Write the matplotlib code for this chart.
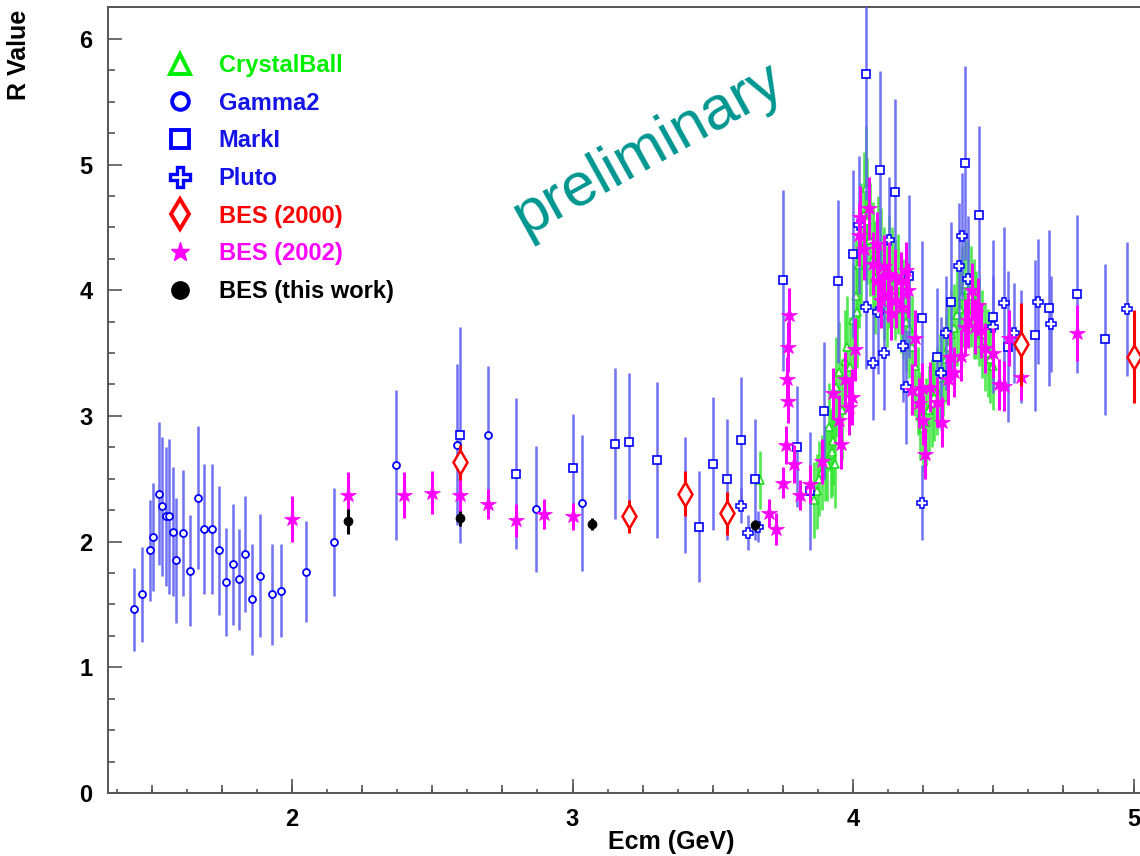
import numpy as np
import matplotlib
matplotlib.use('Agg')
import matplotlib.pyplot as plt
from matplotlib.lines import Line2D
from matplotlib.ticker import MultipleLocator

plt.rcParams['font.family'] = ['Liberation Sans', 'DejaVu Sans']

# Gamma2
g2_e = [1.435, 1.465, 1.492, 1.506, 1.526, 1.538, 1.550, 1.560, 1.575, 1.588, 1.611, 1.637,
        1.664, 1.687, 1.714, 1.738, 1.764, 1.790, 1.812, 1.834, 1.859, 1.886, 1.930, 1.961,
        2.051, 2.150, 2.369, 2.588, 2.699, 2.870, 3.034]
g2_r = [1.46, 1.58, 1.93, 2.04, 2.38, 2.28, 2.20, 2.20, 2.08, 1.85, 2.07, 1.77,
        2.35, 2.10, 2.10, 1.93, 1.68, 1.82, 1.70, 1.90, 1.54, 1.73, 1.58, 1.61,
        1.76, 2.00, 2.61, 2.77, 2.85, 2.26, 2.31]
g2_err = [0.33, 0.38, 0.40, 0.43, 0.57, 0.55, 0.55, 0.62, 0.51, 0.50, 0.50, 0.44,
          0.57, 0.52, 0.52, 0.51, 0.43, 0.48, 0.40, 0.46, 0.44, 0.49, 0.40, 0.37,
          0.40, 0.43, 0.60, 0.64, 0.55, 0.50, 0.54]

# MarkI
mk_e = [2.60, 2.80, 3.00, 3.15, 3.20, 3.30, 3.40, 3.45, 3.50, 3.55, 3.60, 3.65, 3.75,
        3.80, 3.847, 3.897, 3.946, 4.00, 4.047, 4.098, 4.148, 4.20, 4.247, 4.30, 4.348,
        4.40, 4.448, 4.50, 4.553, 4.648, 4.70, 4.80, 4.90]
mk_r = [2.85, 2.54, 2.585, 2.78, 2.79, 2.65, 2.37, 2.12, 2.62, 2.495, 2.81, 2.495, 4.08,
        2.755, 2.40, 3.04, 4.07, 4.29, 5.72, 4.96, 4.78, 4.11, 3.78, 3.47, 3.91,
        5.01, 4.60, 3.79, 3.55, 3.64, 3.86, 3.97, 3.61]
mk_err = [0.86, 0.60, 0.43, 0.60, 0.55, 0.62, 0.46, 0.44, 0.53, 0.48, 0.50, 0.48, 0.72,
          0.48, 0.47, 0.55, 0.65, 0.67, 1.00, 0.78, 0.74, 0.65, 0.61, 0.55, 0.63,
          0.77, 0.71, 0.61, 0.60, 0.60, 0.62, 0.63, 0.60]

# Pluto
pl_e = [3.600, 3.627, 3.660, 4.020, 4.047, 4.070, 4.090, 4.110, 4.130, 4.180, 4.190, 4.246,
        4.315, 4.330, 4.377, 4.387, 4.410, 4.500, 4.540, 4.573, 4.600, 4.660, 4.707, 4.976]
pl_r = [2.285, 2.07, 2.12, 4.52, 3.87, 3.42, 3.83, 3.50, 4.40, 3.56, 3.23, 2.31,
        3.34, 3.66, 4.19, 4.43, 4.09, 3.71, 3.90, 3.66, 3.55, 3.91, 3.73, 3.85]
pl_err = [0.14, 0.14, 0.12, 0.55, 0.50, 0.45, 0.50, 0.45, 0.50, 0.45, 0.45, 0.30,
          0.45, 0.45, 0.50, 0.50, 0.50, 0.40, 0.60, 0.40, 0.45, 0.50, 0.38, 0.53]

# CrystalBall
cb_e = [3.670, 3.860, 3.870, 3.880, 3.890, 3.900, 3.907, 3.914, 3.920, 3.925, 3.930, 3.937,
        3.940, 3.950, 3.960, 3.970, 3.980, 3.990, 4.000, 4.010, 4.015, 4.020, 4.030, 4.040,
        4.045, 4.050, 4.060, 4.070, 4.080, 4.090, 4.100, 4.110, 4.120, 4.130, 4.140, 4.150,
        4.160, 4.170, 4.180, 4.190, 4.200, 4.210, 4.220, 4.230, 4.240, 4.250, 4.260, 4.270,
        4.280, 4.290, 4.300, 4.310, 4.320, 4.330, 4.340, 4.350, 4.360, 4.370, 4.380, 4.390,
        4.400, 4.410, 4.420, 4.430, 4.440, 4.450, 4.460, 4.470, 4.480, 4.490, 4.500]
cb_r = [2.49, 2.33, 2.40, 2.50, 2.55, 2.62, 2.62, 2.91, 2.70, 2.71, 2.80, 2.62,
        3.23, 3.35, 3.05, 3.44, 3.55, 3.39, 3.76, 3.95, 3.83, 4.20, 4.35, 4.60,
        4.81, 4.55, 4.40, 4.25, 4.10, 4.30, 4.20, 4.05, 3.95, 4.15, 4.10, 4.00,
        4.05, 3.90, 3.85, 3.75, 3.70, 3.55, 3.40, 3.20, 3.00, 2.90, 2.95, 3.05,
        3.10, 3.15, 3.20, 3.30, 3.35, 3.45, 3.55, 3.65, 3.70, 3.80, 3.85, 3.95,
        4.05, 4.00, 3.95, 3.85, 3.80, 3.75, 3.65, 3.55, 3.50, 3.45, 3.40]
cb_err = [0.23, 0.30, 0.30, 0.30, 0.30, 0.30, 0.30, 0.35, 0.35, 0.35, 0.35, 0.35,
          0.40, 0.40, 0.40, 0.40, 0.40, 0.40, 0.45, 0.45, 0.45, 0.50, 0.50, 0.50,
          0.50, 0.50, 0.45, 0.45, 0.45, 0.45, 0.45, 0.45, 0.40, 0.45, 0.40, 0.40,
          0.40, 0.40, 0.40, 0.40, 0.40, 0.40, 0.40, 0.35, 0.35, 0.35, 0.35, 0.35,
          0.35, 0.35, 0.35, 0.35, 0.35, 0.35, 0.35, 0.35, 0.35, 0.40, 0.40, 0.40,
          0.40, 0.40, 0.40, 0.40, 0.35, 0.35, 0.35, 0.35, 0.35, 0.35, 0.35]

# BES (2000)
b0_e = [2.60, 3.20, 3.40, 3.55, 4.60, 5.00]
b0_r = [2.63, 2.20, 2.38, 2.225, 3.57, 3.47]
b0_err = [0.14, 0.13, 0.18, 0.17, 0.33, 0.37]

# BES (2002)
b2_e = [2.00, 2.20, 2.40, 2.50, 2.60, 2.70, 2.80, 2.90, 3.00,
        3.700, 3.727, 3.749, 3.760, 3.765, 3.768, 3.770, 3.772, 3.790, 3.810, 3.847, 3.888,
        3.930, 3.950, 3.956, 3.970, 3.984, 3.998, 4.007, 4.020, 4.025, 4.040, 4.057, 4.073,
        4.085, 4.090, 4.100, 4.110, 4.125, 4.130, 4.135, 4.150, 4.155, 4.170, 4.175, 4.190,
        4.195, 4.210, 4.220, 4.235, 4.245, 4.250, 4.255, 4.276, 4.300, 4.316, 4.340, 4.345,
        4.360, 4.385, 4.400, 4.410, 4.425, 4.436, 4.445, 4.455, 4.470, 4.500, 4.520, 4.540,
        4.555, 4.600, 4.800]
b2_r = [2.18, 2.37, 2.37, 2.39, 2.37, 2.30, 2.17, 2.22, 2.20,
        2.23, 2.10, 2.47, 2.77, 3.29, 3.12, 3.55, 3.80, 2.62, 2.37, 2.46, 2.64,
        3.18, 2.97, 2.78, 3.29, 3.07, 3.15, 3.53, 4.44, 4.58, 4.33, 4.65, 4.21,
        4.37, 4.08, 3.92, 4.19, 3.97, 4.13, 3.82, 4.11, 3.92, 4.08, 3.87, 4.16,
        4.00, 3.21, 3.62, 3.10, 3.22, 2.97, 2.70, 3.23, 3.11, 2.95, 3.29, 3.47,
        3.35, 3.48, 3.71, 3.76, 4.00, 3.71, 3.88, 3.68, 3.54, 3.50, 3.25, 3.24,
        3.62, 3.31, 3.66]
b2_err = [0.18, 0.18, 0.18, 0.17, 0.20, 0.12, 0.13, 0.12, 0.11,
          0.11, 0.13, 0.12, 0.15, 0.18, 0.18, 0.20, 0.22, 0.15, 0.12, 0.15, 0.18,
          0.20, 0.20, 0.20, 0.22, 0.22, 0.22, 0.25, 0.25, 0.25, 0.25, 0.25, 0.25,
          0.25, 0.25, 0.22, 0.25, 0.22, 0.25, 0.22, 0.22, 0.22, 0.22, 0.22, 0.22,
          0.22, 0.20, 0.22, 0.20, 0.20, 0.20, 0.20, 0.20, 0.20, 0.20, 0.20, 0.20,
          0.20, 0.20, 0.22, 0.22, 0.22, 0.22, 0.22, 0.22, 0.20, 0.20, 0.20, 0.20,
          0.22, 0.18, 0.22]

# BES (this work)
bt_e = [2.20, 2.60, 3.07, 3.65]
bt_r = [2.16, 2.185, 2.14, 2.13]
bt_err = [0.10, 0.06, 0.05, 0.04]

BLUE = '#0000ff'
BLUE_BAR = '#6262f2'
GREEN = '#33e633'
MAGENTA = '#ff00ff'
RED = '#ff0000'

W, H = 1140, 856
fig = plt.figure(figsize=(W / 100, H / 100), dpi=100)

ppg = 280.5   # pixels per GeV
ppr = 125.7   # pixels per unit of R
x0, x1 = 1.344, 5.06
y0, y1 = 0.0, 6.25
ax = fig.add_axes([108 / W, (H - 793) / H, (x1 - x0) * ppg / W, (y1 - y0) * ppr / H])
ax.set_xlim(x0, x1)
ax.set_ylim(y0, y1)

def series(e, r, err, ecol, elw, marker, ms, mfc, mec, mew, z, alpha=1.0):
    ax.errorbar(e, r, yerr=err, fmt='none', ecolor=ecol, elinewidth=elw,
                capsize=0, alpha=alpha, zorder=z)
    ax.plot(e, r, linestyle='none', marker=marker, markersize=ms,
            markerfacecolor=mfc, markeredgecolor=mec, markeredgewidth=mew, zorder=z + 0.5)

series(cb_e, cb_r, cb_err, GREEN, 1.9, '^', 5.5, 'white', '#22dd22', 1.2, 2, alpha=0.85)
series(g2_e, g2_r, g2_err, BLUE_BAR, 1.8, 'o', 5, 'white', BLUE, 1.3, 3, alpha=0.9)
series(mk_e, mk_r, mk_err, BLUE_BAR, 1.8, 's', 5.5, 'white', BLUE, 1.2, 3, alpha=0.9)
series(pl_e, pl_r, pl_err, BLUE_BAR, 1.8, 'P', 6.5, 'white', BLUE, 1.1, 3, alpha=0.9)
series(b2_e, b2_r, b2_err, MAGENTA, 2.2, '*', 11.5, MAGENTA, MAGENTA, 0.5, 4)
series(b0_e, b0_r, b0_err, RED, 2.2, 'd', 12, 'white', RED, 1.8, 5)
series(bt_e, bt_r, bt_err, 'black', 2.2, 'o', 6.5, 'black', 'black', 0.5, 6)

# axes frame and ROOT-like inward ticks
for side in ['left', 'bottom', 'top', 'right']:
    ax.spines[side].set_color('#555555')
    ax.spines[side].set_linewidth(1.4)

ax.xaxis.set_major_locator(MultipleLocator(1))
ax.xaxis.set_minor_locator(MultipleLocator(0.125))
ax.yaxis.set_major_locator(MultipleLocator(1))
ax.yaxis.set_minor_locator(MultipleLocator(0.25))
ax.tick_params(which='both', direction='in', color='#555555', width=1.2,
               top=False, right=False)
ax.tick_params(which='major', length=10, labelsize=17, pad=11)
ax.tick_params(which='minor', length=3)
ax.tick_params(axis='y', which='minor', length=5)
for lab in ax.get_xticklabels() + ax.get_yticklabels():
    lab.set_fontweight('bold')

# medium x ticks every 0.25 GeV
sec = ax.secondary_xaxis('bottom')
sec.set_xticks(np.arange(1.5, 5.01, 0.25))
sec.tick_params(direction='in', length=5.5, width=1.2, color='#555555', labelbottom=False)
sec.spines['bottom'].set_visible(False)

fig.text(19 / W, 1 - 10 / H, 'R Value', rotation=90, ha='center', va='top',
         fontsize=18, fontweight='bold')
fig.text(735 / W, 1 - 842 / H, 'Ecm (GeV)', ha='right', va='center',
         fontsize=18, fontweight='bold')

fig.text(648 / W, 1 - 150 / H, 'preliminary', rotation=29, ha='center', va='center',
         fontsize=44, color='#009690', zorder=10)

handles = [
    Line2D([], [], ls='none', marker='^', ms=14, mfc='white', mec='#00ee00', mew=2.8),
    Line2D([], [], ls='none', marker='o', ms=12, mfc='white', mec=BLUE, mew=2.8),
    Line2D([], [], ls='none', marker='s', ms=12.5, mfc='white', mec=BLUE, mew=2.8),
    Line2D([], [], ls='none', marker='P', ms=14, mfc='white', mec=BLUE, mew=2.4),
    Line2D([], [], ls='none', marker='d', ms=15, mfc='white', mec=RED, mew=2.8),
    Line2D([], [], ls='none', marker='*', ms=14, mfc=MAGENTA, mec=MAGENTA),
    Line2D([], [], ls='none', marker='o', ms=12.5, mfc='black', mec='black'),
]
labels = ['CrystalBall', 'Gamma2', 'MarkI', 'Pluto', 'BES (2000)', 'BES (2002)', 'BES (this work)']
colors = ['#00ee00', '#1414e6', '#1414e6', '#1414e6', RED, MAGENTA, 'black']
leg = fig.legend(handles, labels, loc='upper left', bbox_to_anchor=(168 / W, 1 - 54 / H),
                 frameon=False, handlelength=1.0, handletextpad=1.15, labelspacing=0.62,
                 borderpad=0, borderaxespad=0, prop={'size': 17, 'weight': 'bold'})
for t, c in zip(leg.get_texts(), colors):
    t.set_color(c)

plt.savefig('out.png', dpi=100)
